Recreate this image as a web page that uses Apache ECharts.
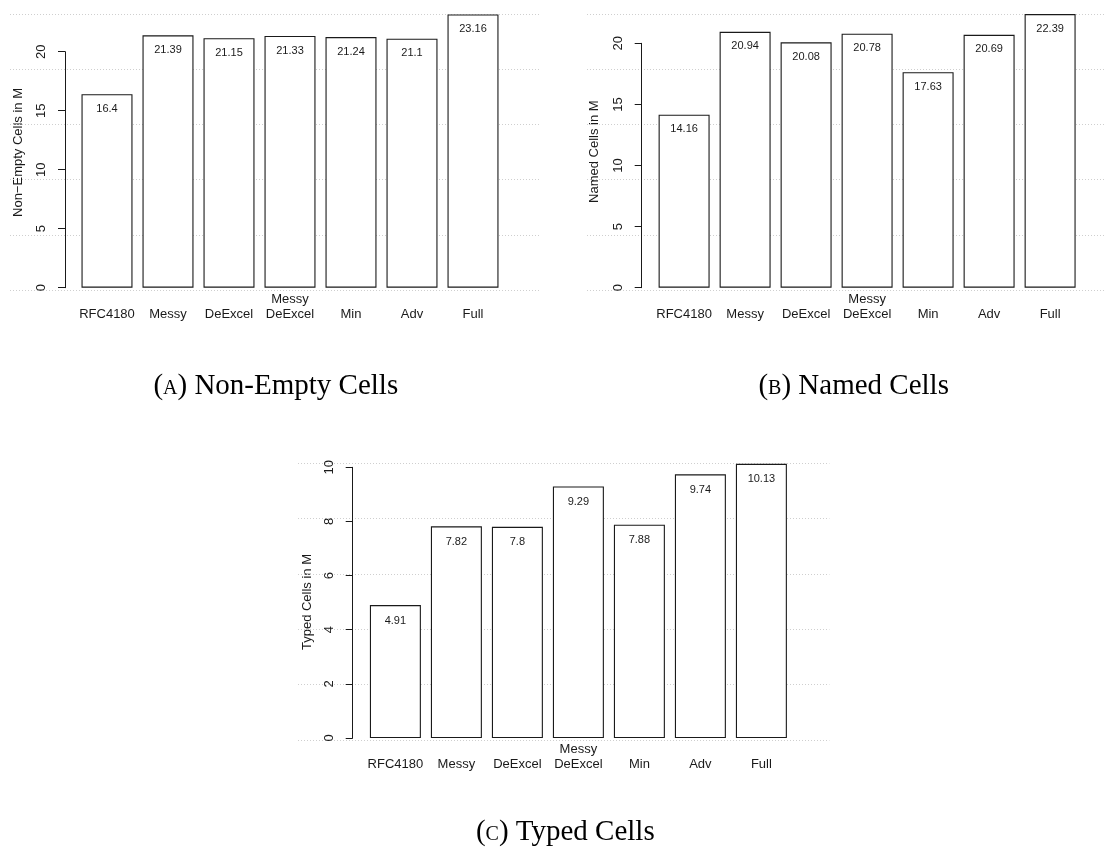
<!DOCTYPE html>
<html>
<head>
<meta charset="utf-8">
<script src="https://cdn.jsdelivr.net/npm/echarts@6/dist/echarts.min.js"></script>
<style>html,body{margin:0;padding:0;background:#fff}#c{width:1105px;height:853px}</style>
</head>
<body>
<div id="c"></div>
<script>
const categories = ['RFC4180', 'Messy', 'DeExcel', 'Messy\nDeExcel', 'Min', 'Adv', 'Full'];
const nonEmptyCells = [16.4, 21.39, 21.15, 21.33, 21.24, 21.1, 23.16];
const namedCells = [14.16, 20.94, 20.08, 20.78, 17.63, 20.69, 22.39];
const typedCells = [4.91, 7.82, 7.8, 9.29, 7.88, 9.74, 10.13];
const yTitles = ['Non\u2212Empty Cells in M', 'Named Cells in M', 'Typed Cells in M'];
const captions = [['a', 'Non-Empty Cells'], ['b', 'Named Cells'], ['c', 'Typed Cells']];
const yMaxAB = 20, yIntAB = 5, yMaxC = 10, yIntC = 2;

const SANS = "'Liberation Sans', Arial, sans-serif";
const SERIF = "'Liberation Serif', 'Times New Roman', serif";
const INK = '#1a1a1a';

const bgGrids = [
  {left: 10, top: 14, width: 531, height: 276},
  {left: 587, top: 14, width: 531, height: 276},
  {left: 298, top: 463.3, width: 531.4, height: 276.7}
];
const fgGrids = [
  {left: 76.5, top: 51.7, width: 427, height: 236},
  {left: 653.6, top: 43.3, width: 427, height: 244.4},
  {left: 364.9, top: 467.3, width: 427, height: 270.7}
];
const offsets = [11.5, 11.9, 12.2];
const labelDist = [9, 9, 10];
const seriesData = [nonEmptyCells, namedCells, typedCells];
const yMax = [yMaxAB, yMaxAB, yMaxC];
const yInt = [yIntAB, yIntAB, yIntC];

const grid = [], xAxis = [], yAxis = [], series = [];
bgGrids.forEach((g, i) => {
  grid.push(Object.assign({containLabel: false}, g));
  xAxis.push({type: 'value', gridIndex: i, min: 0, max: 1, show: false});
  yAxis.push({type: 'value', gridIndex: i, min: 0, max: 5, interval: 1,
    axisLine: {show: false}, axisTick: {show: false}, axisLabel: {show: false},
    splitLine: {show: true, lineStyle: {color: '#cfcfcf', width: 1, type: [1, 2]}}});
});
fgGrids.forEach((g, i) => {
  const gi = i + 3;
  grid.push(Object.assign({containLabel: false}, g));
  xAxis.push({type: 'category', gridIndex: gi, data: categories, boundaryGap: true,
    axisLine: {show: false}, axisTick: {show: false}, splitLine: {show: false},
    axisLabel: {interval: 0, margin: 34, verticalAlign: 'bottom', lineHeight: 15,
      fontSize: 13, fontFamily: SANS, color: INK}});
  yAxis.push({type: 'value', gridIndex: gi, min: 0, max: yMax[i], interval: yInt[i],
    offset: offsets[i],
    axisLine: {show: true, lineStyle: {color: INK, width: 1}},
    axisTick: {show: true, length: 7, lineStyle: {color: INK, width: 1}},
    axisLabel: {rotate: 90, margin: 17, fontSize: 13, fontFamily: SANS, color: INK},
    splitLine: {show: false}});
  series.push({type: 'bar', xAxisIndex: gi, yAxisIndex: gi, data: seriesData[i],
    barWidth: 51, clip: false, silent: true,
    itemStyle: {color: '#fff', borderColor: INK, borderWidth: 1.1},
    label: {show: true, position: 'insideTop', distance: labelDist[i],
      fontSize: 11, fontFamily: SANS, color: INK}});
});

const yTitlePos = [[18, 152.5], [594, 151.7], [307.3, 602]];
const capPos = [[275.8, 386], [853.7, 386], [565.3, 832]];
const graphic = [];
yTitles.forEach((t, i) => {
  graphic.push({type: 'text', x: yTitlePos[i][0], y: yTitlePos[i][1], rotation: Math.PI / 2,
    style: {text: t, fontSize: 13, fontFamily: SANS, fill: INK, align: 'center', verticalAlign: 'middle'}});
});
captions.forEach((c, i) => {
  graphic.push({type: 'text', x: capPos[i][0], y: capPos[i][1],
    style: {text: '{p|(}{s|' + c[0] + '}{p|) ' + c[1] + '}', align: 'center', verticalAlign: 'middle',
      rich: {
        p: {fontSize: 29, fontFamily: SERIF, fill: '#000'},
        s: {fontSize: 29, fontFamily: SERIF, fontStyle: 'small-caps', fill: '#000'}
      }}});
});

const chart = echarts.init(document.getElementById('c'), null, {renderer: 'canvas'});
chart.setOption({animation: false, backgroundColor: '#fff', grid, xAxis, yAxis, series, graphic});
</script>
</body>
</html>
